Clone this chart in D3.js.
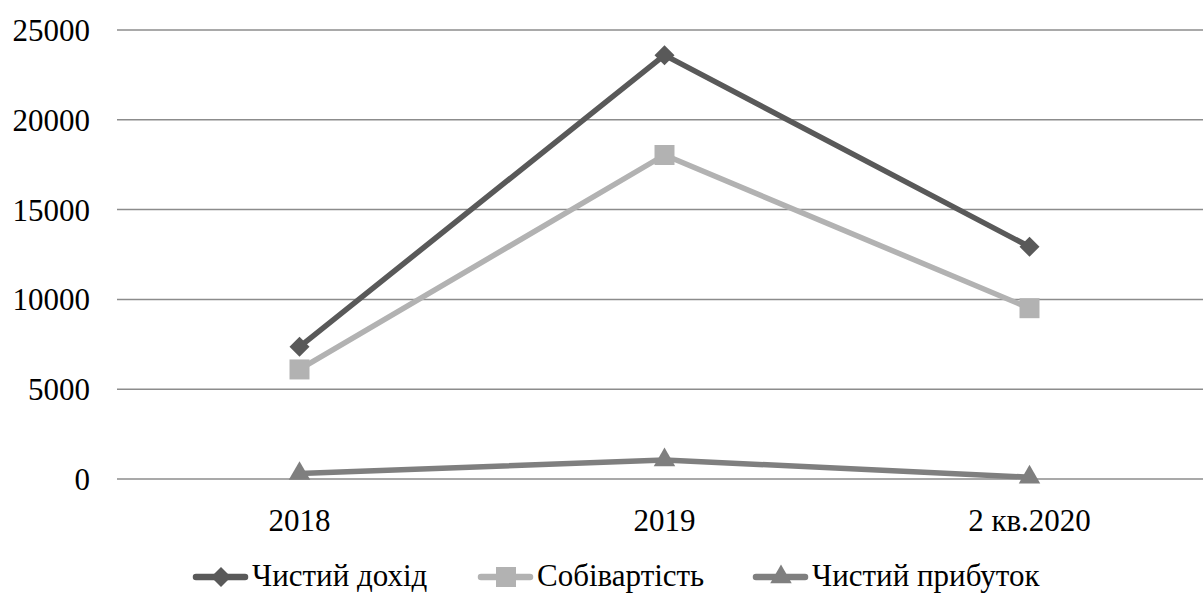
<!DOCTYPE html>
<html>
<head>
<meta charset="utf-8">
<script src="https://cdn.jsdelivr.net/npm/d3@7"></script>
<style>
  html, body { margin: 0; padding: 0; background: #fff; font-family: "Times New Roman", "Liberation Serif", serif; }
  svg { display: block; font-family: "Times New Roman", "Liberation Serif", serif; }
</style>
</head>
<body>
<svg id="chart" width="1203" height="593"></svg>
<script>
// Periods on the x axis
const categories = ["2018", "2019", "2 кв.2020"];
// Series values (тис. грн)
const netIncome = [7360, 23600, 12930];
const costOfSales = [6100, 18040, 9510];
const netProfit = [300, 1060, 100];
// Y axis ticks
const yTicks = [0, 5000, 10000, 15000, 20000, 25000];

const seriesNames = ["Чистий дохід", "Собівартість", "Чистий прибуток"];
const seriesColors = ["#595959", "#b2b2b2", "#7f7f7f"];
// Marker shapes: diamond (rotated square), square, triangle
const markerSpecs = [
  { type: d3.symbolSquare, size: 200, rotate: 45 },
  { type: d3.symbolSquare, size: 400, rotate: 0 },
  { type: d3.symbolTriangle, size: 200, rotate: 0 }
];
const series = [netIncome, costOfSales, netProfit].map((vals, i) => ({
  name: seriesNames[i], color: seriesColors[i], marker: markerSpecs[i], values: vals
}));

const svg = d3.select("#chart");
const plot = { left: 117, right: 1212, top: 30, bottom: 479 };

const x = d3.scaleBand().domain(categories).range([plot.left, plot.right]);
const y = d3.scaleLinear().domain([0, 25000]).range([plot.bottom, plot.top]);

// Horizontal gridlines
svg.append("g")
  .selectAll("line")
  .data(yTicks)
  .join("line")
  .attr("x1", plot.left).attr("x2", plot.right)
  .attr("y1", d => y(d)).attr("y2", d => y(d))
  .attr("stroke", "#8c8c8c").attr("stroke-width", 1.5);

// Y axis labels
const yAxis = d3.axisLeft(y).tickValues(yTicks).tickSize(0).tickPadding(0).tickFormat(d3.format("d"));
svg.append("g")
  .attr("transform", `translate(90,0)`)
  .call(yAxis)
  .attr("font-family", null).attr("font-size", 31)
  .call(g => g.select(".domain").remove())
  .call(g => g.selectAll("text").attr("fill", "#000").attr("dy", "0.34em"));

// X axis labels
const xAxis = d3.axisBottom(x).tickSize(0).tickPadding(0);
svg.append("g")
  .attr("transform", `translate(0,${plot.bottom})`)
  .call(xAxis)
  .attr("font-family", null).attr("font-size", 31)
  .call(g => g.select(".domain").remove())
  .call(g => g.selectAll("text").attr("fill", "#000").attr("y", 52).attr("dy", 0));

const cx = d => x(d) + x.bandwidth() / 2;
const line = d3.line().x(d => cx(d.cat)).y(d => y(d.v));
const markerPath = m => d3.symbol().type(m.type).size(m.size)();

// Series lines and markers (drawn back to front)
[...series].reverse().forEach(s => {
  const pts = s.values.map((v, i) => ({ cat: categories[i], v }));
  svg.append("path")
    .datum(pts)
    .attr("d", line)
    .attr("fill", "none")
    .attr("stroke", s.color)
    .attr("stroke-width", 5.5)
    .attr("stroke-linejoin", "round");
  svg.append("g")
    .selectAll("path")
    .data(pts)
    .join("path")
    .attr("transform", d => `translate(${cx(d.cat)},${y(d.v)}) rotate(${s.marker.rotate})`)
    .attr("d", markerPath(s.marker))
    .attr("fill", s.color);
});

// Legend
const legendX = [193, 478, 753];
const legendY = 577;
const lg = svg.append("g").attr("font-size", 31);
series.forEach((s, i) => {
  const g = lg.append("g").attr("transform", `translate(${legendX[i]},${legendY})`);
  g.append("line").attr("x1", 3).attr("x2", 52).attr("y1", 0).attr("y2", 0)
    .attr("stroke", s.color).attr("stroke-width", 6.5).attr("stroke-linecap", "round");
  g.append("path").attr("transform", `translate(28,0) rotate(${s.marker.rotate})`)
    .attr("d", markerPath(s.marker))
    .attr("fill", s.color);
  g.append("text").attr("x", 59).attr("y", 9).attr("fill", "#000").text(s.name);
});
</script>
</body>
</html>
